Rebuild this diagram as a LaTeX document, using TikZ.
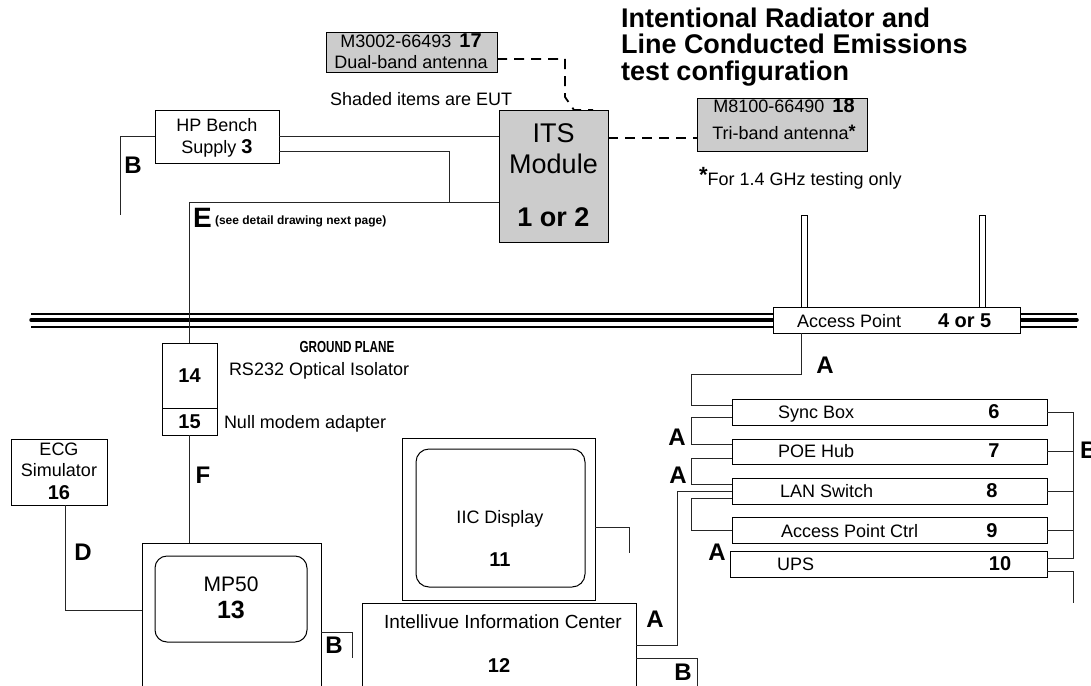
\documentclass[tikz,border=0pt]{standalone}
\usepackage{fontspec}
\setmainfont{Liberation Sans}
\usepackage{graphicx}
\newcommand{\fsz}[1]{\fontsize{#1}{#1}\selectfont}
\begin{document}
\begin{tikzpicture}[x=1pt,y=-1pt,
 every node/.style={inner sep=0pt,outer sep=0pt},
 box/.style={draw=black,line width=1pt,fill=white},
 eut/.style={box,fill=black!20},
 wire/.style={draw=black!85,line width=1pt},
 dwire/.style={draw=black,line width=1.8pt,dash pattern=on 10pt off 7pt},
 gpthin/.style={draw=black,line width=2pt},
 gpthick/.style={draw=black,line width=3.5pt,line cap=round},
 t/.style={anchor=base,font=\fsz{18}},
 tl/.style={anchor=base west,font=\fsz{18}},
 num/.style={anchor=base,font=\bfseries\fsz{20}},
 lab/.style={anchor=base,font=\bfseries\fsz{24}}]

\useasboundingbox (0,0) rectangle (1091,685);

% ground plane
\coordinate (gl) at (31,320);
\coordinate (gr) at (1077,320);
\node[box,minimum width=247pt,minimum height=26pt] (ap) at (896.5,320) {};
\draw[gpthin] ([yshift=6pt]gl) -- ([yshift=6pt]ap.west);
\draw[gpthick] (gl) -- (ap.west);
\draw[gpthin] ([yshift=-7pt]gl) -- ([yshift=-7pt]ap.west);
\draw[gpthin] ([yshift=6pt]ap.east) -- ([yshift=6pt]gr);
\draw[gpthick] (ap.east) -- (gr);
\draw[gpthin] ([yshift=-7pt]ap.east) -- ([yshift=-7pt]gr);
\node[box,minimum width=247pt,minimum height=26pt] (ap) at (896.5,320) {};
\node[box,minimum width=6pt,minimum height=92pt] (ant1) at (804,261) {};
\node[box,minimum width=6pt,minimum height=92pt] (ant2) at (982,261) {};
\node[tl] (tap) at (797,327) {Access Point};
\node[anchor=base west,font=\bfseries\fsz{20}] (nap) at (938,327) {4 or 5};
\node[anchor=base,font=\bfseries\fsz{16}] (tgp) at (347,352) {\scalebox{0.73}[1]{GROUND PLANE}};

% title
\node[anchor=base west,font=\bfseries\fsz{27}] (ti1) at (621,28) {Intentional Radiator and};
\node[anchor=base west,font=\bfseries\fsz{27}] (ti2) at (621,54) {Line Conducted Emissions};
\node[anchor=base west,font=\bfseries\fsz{27}] (ti3) at (621,80) {test configuration};

% EUT boxes
\node[eut,minimum width=171pt,minimum height=39pt] (m17) at (411.5,52.5) {};
\node[t] (m17a) at (411,48) {M3002-66493 \,\textbf{\fsz{20}17}};
\node[t] (m17b) at (411,68) {Dual-band antenna};
\node[tl] (shd) at (330,105) {Shaded items are EUT};

\node[eut,minimum width=109pt,minimum height=132pt] (its) at (553.5,176) {};
\node[anchor=base,font=\fsz{27}] (its1) at (553.5,142) {ITS};
\node[anchor=base,font=\fsz{27}] (its2) at (553.5,173) {Module};
\node[anchor=base,font=\bfseries\fsz{27}] (its3) at (553.5,226) {1 or 2};

\node[eut,minimum width=170pt,minimum height=53pt] (m18) at (782,124.5) {};
\node[t] (m18a) at (784,112) {M8100-66490 \,\textbf{\fsz{20}18}};
\node[t] (m18b) at (784,139) {Tri-band antenna\raisebox{2pt}{\textbf{*}}};
\node[anchor=base west] (note) at (699,185) {\raisebox{3pt}{\bfseries\fsz{22}*}\fsz{18}For 1.4 GHz testing only};

\draw[dwire] ([yshift=-6.5pt]m17.east) -| ([xshift=11.5pt,yshift=13pt]its.north) -- ([xshift=20.5pt]its.north) -- ([xshift=39.5pt]its.north);
\draw[dwire] ([yshift=38pt]its.east) -- ([yshift=38pt]its.east -| m18.west);

% HP bench supply
\node[box,minimum width=124pt,minimum height=53pt] (hp) at (217,136.5) {};
\node[t] (hp1) at (217,131) {HP Bench};
\node[t] (hp2) at (217,153) {Supply \textbf{\fsz{20}3}};
\coordinate (hpB) at (120,215);
\coordinate (ej) at (449,202);
\draw[wire] (hp.west) -| (hpB);
\draw[wire] (hp.east) -- (hp.east -| its.west);
\draw[wire] ([yshift=-14.5pt]hp.east) -| (ej);
\node[lab] (lB1) at (133,173) {B};

% isolator
\node[box,minimum width=55pt,minimum height=65pt] (b14) at (189.5,375.5) {};
\node[box,minimum width=55pt,minimum height=27pt] (b15) at (189.5,421.5) {};
\node[num] (n14) at (189.5,382) {14};
\node[num] (n15) at (189.5,428) {15};
\node[tl] (t14) at (229,375) {RS232 Optical Isolator};
\node[tl] (t15) at (224,428) {Null modem adapter};
\draw[wire] ([yshift=-26pt]its.west) -| (b14.north);
\node[anchor=base west,font=\bfseries\fsz{28}] (lE) at (193,227) {E};
\node[anchor=base west,font=\bfseries\fsz{12}] (lEt) at (215,224) {(see detail drawing next page)};

% ECG simulator
\node[box,minimum width=96pt,minimum height=66pt] (ecg) at (59,472) {};
\node[t] (e1) at (59,455) {ECG};
\node[t] (e2) at (59,476) {Simulator};
\node[num] (e3) at (59,499) {16};

% MP50
\node[box,minimum width=179pt,minimum height=157pt] (mp) at (231.5,621.5) {};
\node[box,rounded corners=12pt,minimum width=152pt,minimum height=86pt] (mpi) at (231,599) {};
\node[anchor=base,font=\fsz{21}] (mp1) at (231,591) {MP50};
\node[anchor=base,font=\bfseries\fsz{25}] (mp2) at (231,618) {13};
\draw[wire] (b15.south) -- (b15.south |- mp.north);
\node[lab] (lF) at (203,483) {F};
\draw[wire] ([xshift=6pt]ecg.south) |- ([yshift=11.5pt]mp.west);
\node[lab] (lD) at (83,560) {D};
\coordinate (mpB) at (352,658);
\draw[wire] ([yshift=-10.5pt]mp.east) -| (mpB);
\node[lab] (lB2) at (334,653) {B};

% IIC display and center
\node[box,minimum width=193pt,minimum height=162pt] (disp) at (498.5,519) {};
\node[box,rounded corners=13pt,minimum width=169pt,minimum height=138pt] (dispi) at (500.5,518) {};
\node[t] (d1) at (500,523) {IIC Display};
\node[num] (d2) at (500,566) {11};
\coordinate (dspB) at (629,553);
\draw[wire] ([yshift=-8pt]disp.east) -| (dspB);
\node[box,minimum width=274pt,minimum height=97pt] (iic) at (499,651.5) {};
\node[anchor=base,font=\fsz{19}] (c1) at (503,628) {Intellivue Information Center};
\node[num] (c2) at (499,672) {12};
\coordinate (iicB) at (697,690);
\draw[wire] ([yshift=-6.5pt]iic.east) -| (iicB);
\node[lab] (lB3) at (683,680) {B};

% rack
\node[box,minimum width=315pt,minimum height=26pt] (sync) at (889.5,412) {};
\node[box,minimum width=315pt,minimum height=25pt] (poe) at (889.5,451.5) {};
\node[box,minimum width=315pt,minimum height=26pt] (lan) at (889.5,491) {};
\node[box,minimum width=315pt,minimum height=26pt] (apc) at (889.5,530) {};
\node[box,minimum width=317pt,minimum height=26pt] (ups) at (888.5,564) {};
\node[tl] (s1) at (778,418) {Sync Box};
\node[num] (s2) at (994,418) {6};
\node[tl] (p1) at (778,457) {POE Hub};
\node[num] (p2) at (994,457) {7};
\node[tl] (l1) at (780,497) {LAN Switch};
\node[num] (l2) at (992,497) {8};
\node[tl] (a1) at (781,537) {Access Point Ctrl};
\node[num] (a2) at (992,537) {9};
\node[tl] (u1) at (777,570) {UPS};
\node[num] (u2) at (1000,570) {10};

\draw[wire] ([xshift=-95.5pt]ap.south) -- ++(0,41) -- ++(-110,0) |- ([yshift=7pt]sync.west);
\draw[wire] ([yshift=-5pt]sync.west) -- ++(-41,0) |- ([yshift=7.5pt]poe.west);
\draw[wire] ([yshift=-6.5pt]poe.west) -- ++(-41,0) |- ([yshift=7pt]lan.west);
\draw[wire] (lan.west) -- ++(-55,0) |- ([yshift=6.5pt]iic.east);
\draw[wire] ([yshift=-7pt]lan.west) -- ++(-41,0) |- (apc.west);
\node[lab] (lA1) at (825,373) {A};
\node[lab] (lA2) at (677,445) {A};
\node[lab] (lA3) at (678,483) {A};
\node[lab] (lA4) at (717,560) {A};
\node[lab] (lA5) at (655,627) {A};

\coordinate (bt) at (1073,412);
\draw[wire] (sync.east) -- (bt) |- ([yshift=6pt]ups.east);
\draw[wire] (poe.east) -- (poe.east -| bt);
\draw[wire] (lan.east) -- (lan.east -| bt);
\draw[wire] (apc.east) -- (apc.east -| bt);
\coordinate (upsB) at (1073,603);
\draw[wire] ([yshift=-7pt]ups.east) -| (upsB);
\node[anchor=base west,font=\bfseries\fsz{24}] (lB4) at (1080,458) {B};
\end{tikzpicture}
\end{document}
